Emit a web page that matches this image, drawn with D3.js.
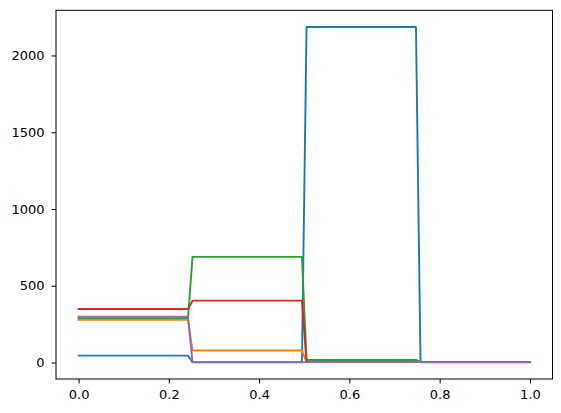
<!DOCTYPE html>
<html>
<head>
<meta charset="utf-8">
<script src="https://cdn.jsdelivr.net/npm/d3@7"></script>
<style>
html,body{margin:0;padding:0;background:#fff;}
svg{display:block;}
text{font-family:"DejaVu Sans",sans-serif;}
</style>
</head>
<body>
<svg id="chart" width="561" height="413"></svg>
<script>
// x positions where the (piecewise constant) series change level
const xValues = [0, 0.2424, 0.2525, 0.4949, 0.5051, 0.7475, 0.7576, 1.0];
const seriesBlue   = [45, 45, 2, 2, 2185, 2185, 2, 2];
const seriesOrange = [279, 279, 78, 78, 3, 3, 3, 3];
const seriesGreen  = [289, 289, 688, 688, 17, 17, 3, 3];
const seriesRed    = [349, 349, 403, 403, 3, 3, 3, 3];
const seriesPurple = [299, 299, 3, 3, 3, 3, 3, 3];
const seriesList = [seriesBlue, seriesOrange, seriesGreen, seriesRed, seriesPurple];
const colors = ["#1f77b4", "#ff7f0e", "#2ca02c", "#d62728", "#9467bd"];
const xTicks = [0, 0.2, 0.4, 0.6, 0.8, 1.0];
const yTicks = [0, 500, 1000, 1500, 2000];

(function () {
const svg = d3.select("#chart");
const mLeft = 56, mRight = 552.5, mTop = 10.3, mBottom = 379;

const xmin = d3.min(xValues), xmax = d3.max(xValues);
const xr = xmax - xmin;
const x = d3.scaleLinear().domain([xmin - 0.05 * xr, xmax + 0.05 * xr]).range([mLeft, mRight]);
const all = seriesList.flat();
const ymin = d3.min(all), ymax = d3.max(all);
const yr = ymax - ymin;
const y = d3.scaleLinear().domain([ymin - 0.05 * yr, ymax + 0.05 * yr]).range([mBottom, mTop]);

const line = d3.line().x((d, i) => x(xValues[i])).y(d => y(d));
seriesList.forEach((s, k) => {
  svg.append("path").datum(s)
    .attr("d", line)
    .attr("fill", "none")
    .attr("stroke", colors[k])
    .attr("stroke-width", 1.9)
    .attr("stroke-linejoin", "round")
    .attr("stroke-linecap", "square");
});

const xAxis = d3.axisBottom(x).tickValues(xTicks).tickFormat(d3.format(".1f")).tickSize(4.5).tickPadding(6.5);
const yAxis = d3.axisLeft(y).tickValues(yTicks).tickFormat(d3.format("d")).tickSize(4.5).tickPadding(7);

const gx = svg.append("g").attr("transform", `translate(0,${mBottom})`).call(xAxis);
const gy = svg.append("g").attr("transform", `translate(${mLeft},0)`).call(yAxis);
[gx, gy].forEach(g => {
  g.select(".domain").remove();
  g.selectAll(".tick line").attr("stroke", "#000").attr("stroke-width", 1);
  g.selectAll(".tick text").attr("fill", "#000").attr("font-size", "13px").attr("font-family", "DejaVu Sans");
});

svg.append("rect")
  .attr("x", mLeft).attr("y", mTop)
  .attr("width", mRight - mLeft).attr("height", mBottom - mTop)
  .attr("fill", "none").attr("stroke", "#000").attr("stroke-width", 1);
})();
</script>
</body>
</html>
